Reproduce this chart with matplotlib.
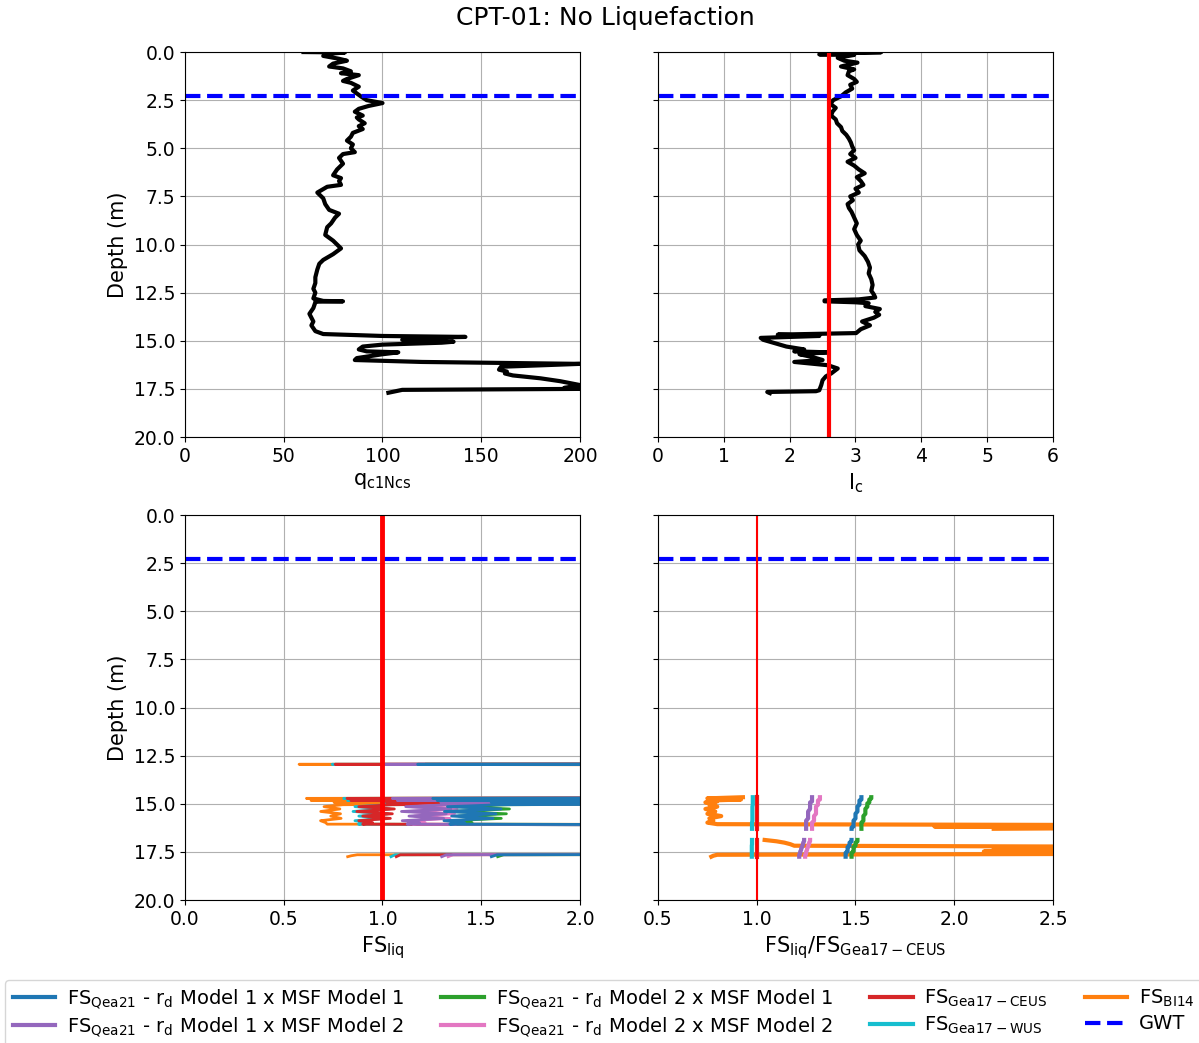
import numpy as np
import matplotlib
matplotlib.use("Agg")
import matplotlib.pyplot as plt

# ---- CPT profile ----
depth_q = [0.00, 0.02, 0.10, 0.20, 0.35, 0.45, 0.60, 0.75, 0.85, 1.00, 1.10, 1.20, 1.40, 1.50,
           1.60, 1.80, 2.00, 2.30, 2.50, 2.65, 2.80, 2.95, 3.10, 3.30, 3.40, 3.50, 3.70, 3.85,
           4.00, 4.20, 4.40, 4.60, 4.80, 5.00, 5.20, 5.30, 5.50, 5.80, 6.10, 6.40, 6.55, 6.70,
           6.90, 7.00, 7.30, 7.60, 7.90, 8.20, 8.40, 8.60, 8.90, 9.10, 9.50, 9.80, 10.20, 10.50,
           10.80, 11.00, 11.30, 11.70, 12.00, 12.30, 12.50, 12.80, 12.93, 12.95, 12.97, 13.00,
           13.30, 13.60, 14.00, 14.20, 14.50, 14.65, 14.75, 14.80, 14.85, 14.95, 15.05, 15.10,
           15.20, 15.30, 15.45, 15.55, 15.60, 15.70, 15.90, 16.00, 16.10, 16.20, 16.35, 16.50,
           16.60, 16.70, 16.80, 16.95, 17.10, 17.30, 17.45, 17.50, 17.55, 17.70]
q_c1Ncs = [60, 81, 72, 70, 78, 82, 75, 73, 80, 84, 79, 88, 82, 80,
           84, 88, 85, 89, 92, 100, 93, 88, 86, 90, 87, 88, 91, 88,
           90, 85, 84, 82, 85, 84, 86, 80, 78, 80, 77, 75, 79, 78,
           79, 72, 67, 70, 71, 73, 78, 76, 74, 72, 71, 75, 79, 75,
           70, 68, 67, 66, 66, 65, 66, 65, 70, 80, 66, 66,
           65, 63, 65, 64, 66, 70, 100, 142, 120, 110, 136, 130,
           100, 90, 88, 92, 108, 100, 87, 86, 120, 200, 160, 159,
           163, 162, 166, 180, 190, 200, 192, 200, 110, 103]

depth_ic = [0.00, 0.01, 0.05, 0.10, 0.12, 0.15, 0.30, 0.45, 0.55, 0.75, 0.90, 1.00, 1.20,
            1.40, 1.55, 1.70, 1.90, 2.10, 2.30, 2.50, 2.70, 2.90, 3.10, 3.30, 3.50, 3.70,
            3.90, 4.10, 4.30, 4.50, 4.70, 4.90, 5.10, 5.30, 5.50, 5.70, 5.90, 6.10, 6.30,
            6.50, 6.70, 6.90, 7.10, 7.30, 7.50, 7.70, 7.90, 8.10, 8.30, 8.60, 8.90, 9.20,
            9.50, 9.80, 10.00, 10.30, 10.60, 10.90, 11.20, 11.50, 11.80, 12.10, 12.40, 12.60,
            12.75, 12.85, 12.90, 12.95, 13.00, 13.05, 13.20, 13.35, 13.50, 13.65, 13.80,
            14.00, 14.20, 14.40, 14.60, 14.68, 14.75, 14.85, 14.95, 15.10, 15.30, 15.45,
            15.55, 15.60, 15.70, 15.85, 16.00, 16.10, 16.27, 16.44, 16.70, 16.85, 17.05,
            17.30, 17.57, 17.62, 17.66, 17.72]
i_c = [2.78, 3.39, 2.95, 2.75, 2.45, 2.98, 2.73, 2.83, 3.03, 2.78, 2.98, 2.90, 2.88,
       2.98, 3.02, 2.92, 2.95, 2.85, 2.78, 2.66, 2.62, 2.70, 2.65, 2.63, 2.70, 2.72,
       2.78, 2.80, 2.86, 2.90, 2.93, 2.95, 2.98, 2.92, 3.00, 2.88, 2.98, 3.05, 3.14,
       3.02, 3.08, 3.12, 3.00, 3.05, 2.92, 2.96, 2.88, 2.90, 2.94, 2.98, 3.02, 2.98,
       3.02, 3.08, 3.04, 3.06, 3.14, 3.19, 3.22, 3.20, 3.24, 3.26, 3.24, 3.28,
       3.30, 3.05, 2.53, 2.53, 3.00, 3.20, 3.15, 3.37, 3.30, 3.36, 3.28,
       3.10, 3.22, 3.08, 3.01, 1.82, 2.45, 1.56, 1.60, 1.75, 1.95, 2.22,
       2.07, 2.58, 2.15, 2.35, 2.50, 2.07, 2.58, 2.73, 2.63, 2.55, 2.50,
       2.48, 2.45, 2.40, 1.66, 1.70]

gwt_depth = 2.3
ic_limit = 2.6

# ---- factor of safety (liquefiable layers only, nan breaks layers) ----
nan = np.nan
depth_fs = [12.91, 12.95, 12.99, nan,
            14.66, 14.72, 14.78, 14.83, 14.88, 14.93, 14.98, 15.05, 15.15, 15.27, 15.40,
            15.52, 15.64, 15.76, 15.88, 15.98, 16.06, 16.12, 16.18, 16.24, 16.30, nan,
            16.88, 16.95, 17.02, 17.10, 17.18, 17.25, 17.32, 17.40, 17.48, 17.55, 17.60,
            17.65, 17.70, 17.75]
liquefiable = [0, 1, 0, 0,
               1, 1, 1, 1, 1, 1, 1, 1, 1, 1, 1, 1, 1, 1, 1, 1, 1, 1, 1, 1, 1, 0,
               1, 1, 1, 1, 1, 1, 1, 1, 1, 1, 1, 1, 1, 1]
fs_gea17_ceus = [4.0, 0.76, 4.0, nan,
                 4.0, 0.82, 2.6, 0.84, 1.9, 1.02, 2.3, 1.05, 0.88, 1.06, 0.87,
                 1.05, 0.90, 1.04, 0.88, 0.95, 0.90, 3.0, 3.2, 3.0, 3.5, nan,
                 3.0, 3.2, 3.0, 3.4, 3.6, 3.8, 4.2, 4.5, 4.4, 4.0, 3.8,
                 1.09, 1.08, 1.07]

# ratios FS / FS_Gea17-CEUS
r_qea_m1m1 = [1.55, 1.55, 1.55, nan,
              1.53, 1.53, 1.53, 1.52, 1.52, 1.52, 1.52, 1.52, 1.51, 1.51, 1.51,
              1.50, 1.50, 1.50, 1.49, 1.49, 1.49, 1.49, 1.49, 1.48, 1.48, nan,
              1.48, 1.48, 1.47, 1.47, 1.47, 1.46, 1.46, 1.46, 1.46, 1.45, 1.45,
              1.45, 1.45, 1.45]
r_qea_m1m2 = [1.32, 1.32, 1.32, nan,
              1.28, 1.28, 1.28, 1.28, 1.28, 1.27, 1.27, 1.27, 1.27, 1.27, 1.26,
              1.26, 1.26, 1.26, 1.25, 1.25, 1.25, 1.25, 1.25, 1.25, 1.25, nan,
              1.24, 1.24, 1.235, 1.235, 1.23, 1.23, 1.225, 1.225, 1.22, 1.22, 1.22,
              1.215, 1.215, 1.215]
r_qea_m2m1 = [1.60, 1.60, 1.60, nan,
              1.58, 1.58, 1.57, 1.57, 1.57, 1.57, 1.56, 1.56, 1.56, 1.55, 1.55,
              1.55, 1.54, 1.54, 1.54, 1.53, 1.53, 1.53, 1.53, 1.53, 1.53, nan,
              1.51, 1.51, 1.50, 1.50, 1.50, 1.49, 1.49, 1.49, 1.49, 1.48, 1.48,
              1.48, 1.48, 1.48]
r_qea_m2m2 = [1.35, 1.35, 1.35, nan,
              1.32, 1.32, 1.32, 1.31, 1.31, 1.31, 1.31, 1.31, 1.30, 1.30, 1.30,
              1.30, 1.29, 1.29, 1.29, 1.28, 1.28, 1.28, 1.28, 1.28, 1.28, nan,
              1.27, 1.27, 1.265, 1.265, 1.26, 1.26, 1.255, 1.255, 1.25, 1.25, 1.25,
              1.245, 1.245, 1.245]
r_gea17_wus = [0.98, 0.98, 0.98, nan,
               0.98, 0.98, 0.98, 0.98, 0.98, 0.98, 0.98, 0.98, 0.978, 0.978, 0.978,
               0.978, 0.978, 0.978, 0.978, 0.976, 0.976, 0.976, 0.976, 0.976, 0.976, nan,
               0.976, 0.976, 0.976, 0.976, 0.975, 0.975, 0.975, 0.975, 0.975, 0.975, 0.975,
               0.975, 0.975, 0.975]
r_bi14 = [0.76, 0.76, 0.76, nan,
          0.93, 0.75, 0.92, 0.76, 0.80, 0.74, 0.78, 0.76, 0.80, 0.74, 0.79,
          0.75, 0.82, 0.76, 0.78, 0.75, 0.80, 3.5, 1.9, 3.2, 2.2, nan,
          1.04, 1.10, 1.14, 1.17, 1.19, 3.5, 2.2, 2.8, 2.15, 3.2, 3.0,
          0.80, 0.78, 0.77]

# plot order bottom -> top, legend order is different
series = [
    ("bi14", r_bi14, "#ff7f0e", r"FS$_{\mathrm{BI14}}$"),
    ("wus", r_gea17_wus, "#17becf", r"FS$_{\mathrm{Gea17-WUS}}$"),
    ("ceus", [1.0 if not np.isnan(v) else nan for v in fs_gea17_ceus], "#d62728",
     r"FS$_{\mathrm{Gea17-CEUS}}$"),
    ("m2m2", r_qea_m2m2, "#e377c2", r"FS$_{\mathrm{Qea21}}$ - r$_{\mathrm{d}}$ Model 2 x MSF Model 2"),
    ("m2m1", r_qea_m2m1, "#2ca02c", r"FS$_{\mathrm{Qea21}}$ - r$_{\mathrm{d}}$ Model 2 x MSF Model 1"),
    ("m1m2", r_qea_m1m2, "#9467bd", r"FS$_{\mathrm{Qea21}}$ - r$_{\mathrm{d}}$ Model 1 x MSF Model 2"),
    ("m1m1", r_qea_m1m1, "#1f77b4", r"FS$_{\mathrm{Qea21}}$ - r$_{\mathrm{d}}$ Model 1 x MSF Model 1"),
]
legend_order = ["m1m1", "m1m2", "m2m1", "m2m2", "ceus", "wus", "bi14"]

depth_fs = np.array(depth_fs)
ceus = np.array(fs_gea17_ceus)
liq = np.array(liquefiable, dtype=bool)

plt.rcParams["font.size"] = 13
fig = plt.figure(figsize=(11.99, 10.43), dpi=100)
W, H = 0.3294, 0.3691
ax1 = fig.add_axes([0.1543, 0.5810, W, H])
ax2 = fig.add_axes([0.5488, 0.5810, W, H], sharey=ax1)
ax3 = fig.add_axes([0.1543, 0.1371, W, H], sharey=ax1)
ax4 = fig.add_axes([0.5488, 0.1371, W, H], sharey=ax1)

# q_c1Ncs
ax1.plot(q_c1Ncs, depth_q, color="k", lw=3)
ax1.axhline(gwt_depth, color="b", ls="--", lw=3)
ax1.set_xlim(0, 200)
ax1.set_xticks([0, 50, 100, 150, 200])
ax1.set_xlabel(r"q$_{\mathrm{c1Ncs}}$", fontsize=15)
ax1.set_ylabel("Depth (m)", fontsize=15)

# Ic
ax2.plot(i_c, depth_ic, color="k", lw=3)
ax2.axhline(gwt_depth, color="b", ls="--", lw=3)
ax2.axvline(ic_limit, color="r", lw=3)
ax2.set_xlim(0, 6)
ax2.set_xlabel(r"I$_{\mathrm{c}}$", fontsize=15)

# FS and ratio
handles = {}
for key, ratio, col, lab in series:
    ratio = np.array(ratio, dtype=float)
    fs = ratio * ceus
    ax3.plot(fs, depth_fs, color=col, lw=2)
    r_plot = np.where(liq, ratio, nan)
    h, = ax4.plot(r_plot, depth_fs, color=col, lw=3, label=lab)
    handles[key] = h
ax3.axhline(gwt_depth, color="b", ls="--", lw=3)
ax3.axvline(1.0, color="r", lw=3.5)
ax3.set_xlim(0, 2)
ax3.set_xticks([0.0, 0.5, 1.0, 1.5, 2.0])
ax3.set_xlabel(r"FS$_{\mathrm{liq}}$", fontsize=15)
ax3.set_ylabel("Depth (m)", fontsize=15)

gwt, = ax4.plot([0.5, 2.5], [gwt_depth, gwt_depth], color="b", ls="--", lw=3, label="GWT")
ax4.axvline(1.0, color="r", lw=1.5)
ax4.set_xlim(0.5, 2.5)
ax4.set_xticks([0.5, 1.0, 1.5, 2.0, 2.5])
ax4.set_xlabel(r"FS$_{\mathrm{liq}}$/FS$_{\mathrm{Gea17-CEUS}}$", fontsize=15)

for ax in (ax1, ax2, ax3, ax4):
    ax.grid(True)
    ax.tick_params(labelsize=13.5)
ax1.set_ylim(20, 0)
ax1.set_yticks(np.arange(0, 20.1, 2.5))
ax1.yaxis.set_major_formatter(matplotlib.ticker.FormatStrFormatter("%.1f"))
for ax in (ax2, ax4):
    plt.setp(ax.get_yticklabels(), visible=False)

fig.suptitle("CPT-01: No Liquefaction", fontsize=18, y=0.994, x=0.505)

hl = [handles[k] for k in legend_order] + [gwt]
fig.legend(hl, [h.get_label() for h in hl], loc="upper left", bbox_to_anchor=(0.004, 0.0604),
           borderaxespad=0.0, ncol=4, fontsize=14, frameon=True, labelspacing=0.25,
           handlelength=2.2, handletextpad=0.6, columnspacing=1.9)

fig.savefig("out.png", dpi=100)
